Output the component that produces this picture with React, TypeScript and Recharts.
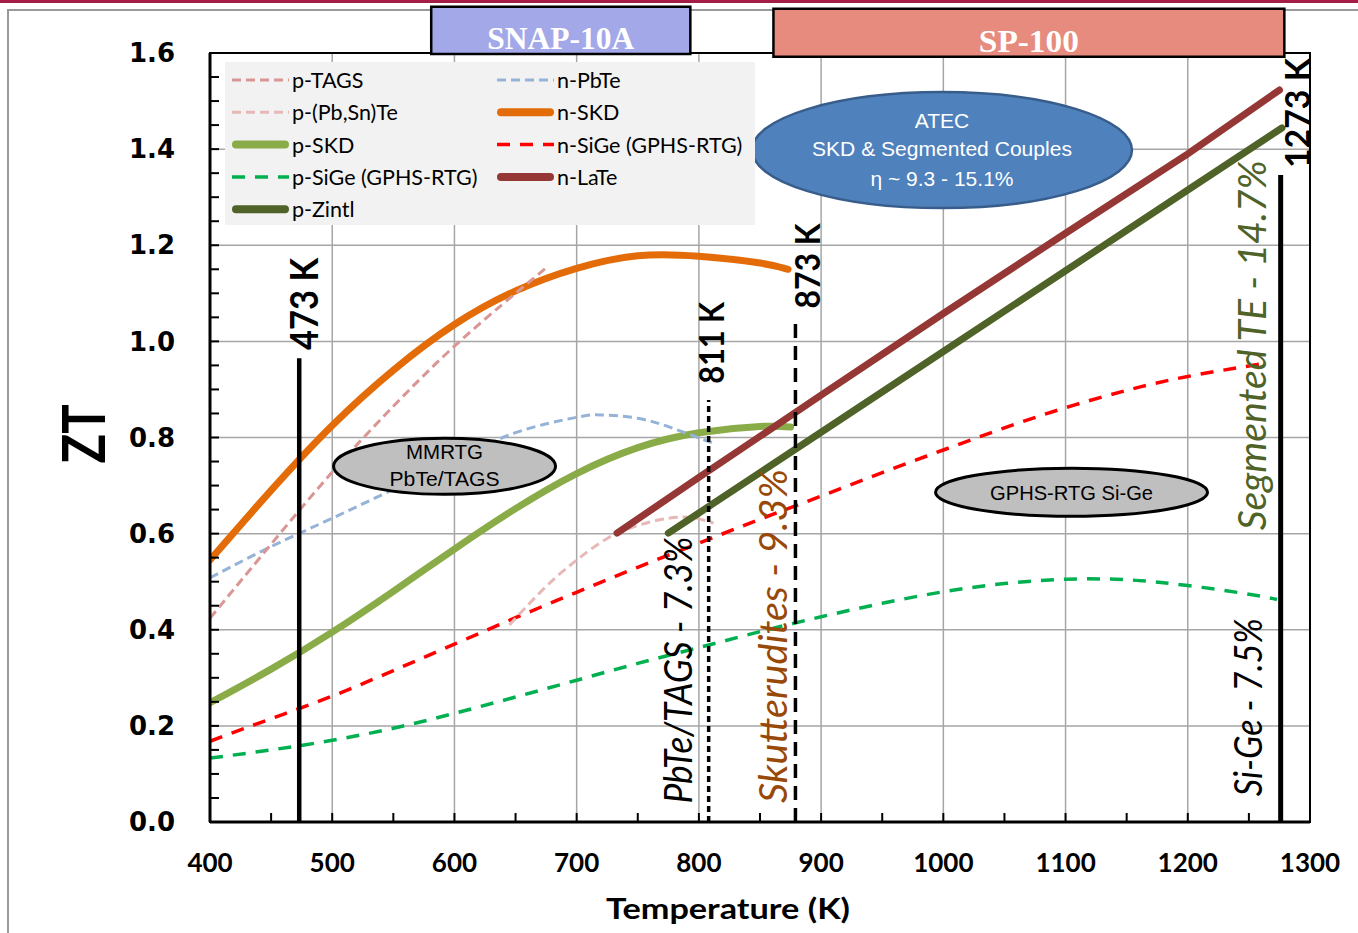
import React from "react";
import {
  ComposedChart,
  Line,
  XAxis,
  YAxis,
  CartesianGrid,
  Legend,
  ReferenceLine,
  ReferenceArea,
  ReferenceDot,
} from "recharts";

const W = 1358;
const H = 933;

// axis ticks (minor ticks every 50 K / 0.05 ZT, labels on the majors)
const xTicks = [400, 450, 500, 550, 600, 650, 700, 750, 800, 850, 900, 950, 1000, 1050, 1100, 1150, 1200, 1250, 1300];
const yTicks = [
  0, 0.05, 0.1, 0.15, 0.2, 0.25, 0.3, 0.35, 0.4, 0.45, 0.5, 0.55, 0.6, 0.65, 0.7, 0.75, 0.8,
  0.85, 0.9, 0.95, 1.0, 1.05, 1.1, 1.15, 1.2, 1.25, 1.3, 1.35, 1.4, 1.45, 1.5, 1.55, 1.6,
];
const xGrid = [500, 600, 700, 800, 900, 1000, 1100, 1200];
const yGrid = [0.2, 0.4, 0.6, 0.8, 1.0, 1.2, 1.4];

// ZT vs temperature (K)
const pTagsT = [400, 450, 500, 550, 600, 650, 676];
const pTagsZT = [0.424, 0.578, 0.728, 0.865, 0.99, 1.1, 1.155];

const pPbSnTeT = [645, 675, 700, 725, 750, 775, 795, 812];
const pPbSnTeZT = [0.41, 0.49, 0.545, 0.59, 0.617, 0.632, 0.633, 0.622];

const pSkdT = [400, 450, 500, 550, 600, 650, 700, 750, 800, 850, 875];
const pSkdZT = [0.248, 0.318, 0.395, 0.48, 0.568, 0.652, 0.725, 0.779, 0.81, 0.823, 0.822];

const pSiGeT = [400, 450, 500, 550, 600, 650, 700, 750, 800, 850, 900, 950, 1000, 1050, 1100, 1150, 1200, 1250, 1273];
const pSiGeZT = [0.133, 0.15, 0.17, 0.195, 0.226, 0.26, 0.295, 0.33, 0.363, 0.396, 0.427, 0.455, 0.479, 0.496, 0.505, 0.504, 0.492, 0.474, 0.463];

const pZintlT = [775, 800, 900, 1000, 1100, 1200, 1277];
const pZintlZT = [0.601, 0.643, 0.811, 0.979, 1.147, 1.315, 1.444];

const nPbTeT = [400, 450, 500, 550, 600, 650, 700, 720, 750, 780, 812];
const nPbTeZT = [0.508, 0.573, 0.632, 0.692, 0.752, 0.81, 0.842, 0.847, 0.84, 0.818, 0.788];

const nSkdT = [400, 450, 500, 550, 600, 650, 700, 750, 800, 850, 873];
const nSkdZT = [0.545, 0.69, 0.825, 0.94, 1.035, 1.105, 1.152, 1.178, 1.177, 1.163, 1.15];

const nSiGeT = [400, 450, 500, 550, 600, 650, 700, 750, 800, 850, 900, 950, 1000, 1050, 1100, 1150, 1200, 1265];
const nSiGeZT = [0.168, 0.215, 0.262, 0.315, 0.37, 0.425, 0.478, 0.53, 0.58, 0.63, 0.678, 0.727, 0.774, 0.82, 0.862, 0.898, 0.927, 0.955];

const nLaTeT = [733, 800, 900, 1000, 1100, 1200, 1275];
const nLaTeZT = [0.601, 0.717, 0.888, 1.058, 1.225, 1.39, 1.523];

// hot-side temperature markers
const refTemps = [473, 808, 879, 1276];
const refTops = [0.965, 0.878, 1.04, 1.346];

const pts = (t: number[], z: number[]) => t.map((x, i) => ({ t: x, zt: z[i] }));

type S = { name: string; t: number[]; zt: number[]; color: string; width: number; dash?: string; curve: "natural" | "linear" };

// drawing order
const series: S[] = [
  { name: "p-SiGe (GPHS-RTG)", t: pSiGeT, zt: pSiGeZT, color: "#00b050", width: 3.5, dash: "13 10", curve: "natural" },
  { name: "n-SiGe (GPHS-RTG)", t: nSiGeT, zt: nSiGeZT, color: "#ff0000", width: 3.5, dash: "13 10", curve: "natural" },
  { name: "p-(Pb,Sn)Te", t: pPbSnTeT, zt: pPbSnTeZT, color: "#e6b9b8", width: 3, dash: "9 5", curve: "natural" },
  { name: "p-SKD", t: pSkdT, zt: pSkdZT, color: "#8aac48", width: 7, curve: "natural" },
  { name: "n-PbTe", t: nPbTeT, zt: nPbTeZT, color: "#95b3d7", width: 3, dash: "9 5", curve: "natural" },
  { name: "n-SKD", t: nSkdT, zt: nSkdZT, color: "#e36c09", width: 7, curve: "natural" },
  { name: "p-TAGS", t: pTagsT, zt: pTagsZT, color: "#d99694", width: 3, dash: "9 5", curve: "natural" },
  { name: "n-LaTe", t: nLaTeT, zt: nLaTeZT, color: "#953735", width: 7, curve: "linear" },
  { name: "p-Zintl", t: pZintlT, zt: pZintlZT, color: "#4f6228", width: 7, curve: "linear" },
];

const legendCols = [
  ["p-TAGS", "p-(Pb,Sn)Te", "p-SKD", "p-SiGe (GPHS-RTG)", "p-Zintl"],
  ["n-PbTe", "n-SKD", "n-SiGe (GPHS-RTG)", "n-LaTe"],
];

const refStyles = [
  { w: 4.5, dash: undefined },
  { w: 3.5, dash: "6 4" },
  { w: 3.5, dash: "14 8" },
  { w: 5, dash: undefined },
];

// rotated annotations (anchor in data units)
const vLabels = [
  { text: "473 K", t: 475.7, zt: 1.078, size: 38, len: 92, color: "#000", italic: false },
  { text: "811 K", t: 809.1, zt: 0.997, size: 35, len: 82, color: "#000", italic: false },
  { text: "873 K", t: 887.6, zt: 1.157, size: 35, len: 85, color: "#000", italic: false },
  { text: "1273 K", t: 1288.5, zt: 1.475, size: 35, len: 110, color: "#000", italic: false },
  { text: "PbTe/TAGS - 7.3%", t: 782.5, zt: 0.316, size: 38, len: 267, color: "#000", italic: true },
  { text: "Skutterudites - 9.3%", t: 859.5, zt: 0.387, size: 38, len: 334, color: "#984807", italic: true },
  { text: "Segmented TE - 14.7%", t: 1251.7, zt: 0.992, size: 38, len: 370, color: "#4f6228", italic: true },
  { text: "Si-Ge - 7.5%", t: 1248.5, zt: 0.239, size: 38, len: 178, color: "#000", italic: true },
];

const bubbles = [
  { lines: ["MMRTG", "PbTe/TAGS"], t: 591.9, zt: 0.74, rx: 111, ry: 28, fill: "#bfbfbf", stroke: "#000", sw: 3, color: "#000", size: 20.5, dy: [-15, 12], lens: [0, 110] },
  { lines: ["GPHS-RTG Si-Ge"], t: 1104.9, zt: 0.686, rx: 136, ry: 24, fill: "#bfbfbf", stroke: "#000", sw: 3, color: "#000", size: 20, dy: [1], lens: [163] },
  { lines: ["ATEC", "SKD & Segmented Couples", "η ~ 9.3 - 15.1%"], t: 998.9, zt: 1.398, rx: 190, ry: 58, fill: "#4f81bd", stroke: "#385d8a", sw: 2.5, color: "#fff", size: 21, dy: [-30, -2, 28], lens: [0, 260, 0] },
];

const LegendBox = () => (
  <svg width={530} height={163} style={{ display: "block" }}>
    <rect x={0} y={0} width={530} height={163} fill="#f2f2f2" />
    {legendCols.map((col, ci) =>
      col.map((name, ri) => {
        const s = series.find((d) => d.name === name)!;
        const x0 = ci === 0 ? 7 : 272;
        const y = 18 + ri * 32.3;
        return (
          <g key={name}>
            {s.dash ? (
              <line x1={x0} x2={x0 + 57} y1={y} y2={y} stroke={s.color} strokeWidth={s.width} strokeDasharray={s.dash} />
            ) : (
              <line x1={x0 + 4} x2={x0 + 53} y1={y} y2={y} stroke={s.color} strokeWidth={8} strokeLinecap="round" />
            )}
            <text x={x0 + 60} y={y} dominantBaseline="central" fontFamily="Lato" fontSize={21.5} fill="#000">
              {name}
            </text>
          </g>
        );
      })
    )}
  </svg>
);

const boxLabel = (text: string, len: number) => (props: any) => {
  const vb = props.viewBox;
  return (
    <text
      x={vb.x + vb.width / 2}
      y={vb.y + vb.height / 2 + 8}
      textAnchor="middle"
      dominantBaseline="central"
      fontFamily="Liberation Serif"
      fontWeight={700}
      fontSize={32}
      fill="#fff"
      textLength={len}
      lengthAdjust="spacingAndGlyphs"
    >
      {text}
    </text>
  );
};

export default function App() {
  return (
    <div style={{ position: "fixed", left: 0, top: 0, width: W, height: H, background: "#fff", overflow: "hidden" }}>
      <div style={{ position: "absolute", left: 0, top: 0, width: W, height: 3, background: "#a51d47" }} />
      <div style={{ position: "absolute", left: 7, top: 9, width: W, height: H, borderLeft: "2px solid #9a9a9a", borderTop: "2px solid #9a9a9a" }} />
      <div style={{ position: "absolute", left: 0, top: 0 }}>
        <ComposedChart width={W} height={H} margin={{ top: 53, right: 48, bottom: 0, left: 0 }}>
          <CartesianGrid stroke="#a6a6a6" strokeWidth={1.5} horizontalValues={yGrid} verticalValues={xGrid} />
          <XAxis
            type="number"
            dataKey="t"
            domain={[400, 1300]}
            ticks={xTicks}
            interval={0}
            allowDataOverflow
            height={111}
            tickSize={-9}
            tickMargin={41}
            tickFormatter={(v: number) => (v % 100 === 0 ? String(v) : "")}
            axisLine={{ stroke: "#000", strokeWidth: 3 }}
            tickLine={{ stroke: "#000", strokeWidth: 2 }}
            tick={{ fill: "#000", fontFamily: "Lato", fontWeight: 700, fontSize: 26 }}
            label={() => (
              <text x={728} y={907} textAnchor="middle" dominantBaseline="central" fontFamily="Lato" fontWeight={700} fontSize={29} fill="#000" textLength={244} lengthAdjust="spacingAndGlyphs">
                Temperature (K)
              </text>
            )}
          />
          <YAxis
            type="number"
            domain={[0, 1.6]}
            ticks={yTicks}
            interval={0}
            width={210}
            tickSize={-9}
            tickMargin={44}
            tickFormatter={(v: number) => (Math.round(v * 100) % 20 === 0 ? v.toFixed(1) : "")}
            axisLine={{ stroke: "#000", strokeWidth: 3 }}
            tickLine={{ stroke: "#000", strokeWidth: 2 }}
            tick={{ fill: "#000", fontFamily: "DejaVu Sans", fontWeight: 700, fontSize: 26 }}
            label={() => (
              <text x={82} y={434} transform="rotate(-90 82 434)" textAnchor="middle" dominantBaseline="central" fontFamily="Lato" fontWeight={700} fontSize={60} fill="#000" textLength={59} lengthAdjust="spacingAndGlyphs">
                ZT
              </text>
            )}
          />
          <Legend
            layout="vertical"
            align="center"
            verticalAlign="middle"
            content={() => <LegendBox />}
            wrapperStyle={{ left: 225, top: 62, width: 530, height: 163 }}
          />

          <ReferenceArea x1={400} x2={1300} y1={0} y2={1.6} fill="none" stroke="#000" strokeWidth={2} fillOpacity={0} />
          <ReferenceArea x1={581} x2={793} y1={1.598} y2={1.696} ifOverflow="visible" fill="#a3a8e8" fillOpacity={1} stroke="#000" strokeWidth={2.5} label={boxLabel("SNAP-10A", 147)} />
          <ReferenceArea x1={861} x2={1279} y1={1.592} y2={1.692} ifOverflow="visible" fill="#e68b7d" fillOpacity={1} stroke="#000" strokeWidth={2.5} label={boxLabel("SP-100", 100)} />

          {series.map((s) => (
            <Line
              key={s.name}
              name={s.name}
              data={pts(s.t, s.zt)}
              dataKey="zt"
              type={s.curve}
              stroke={s.color}
              strokeWidth={s.width}
              strokeDasharray={s.dash}
              strokeLinecap={s.dash ? "butt" : "round"}
              dot={false}
              activeDot={false}
              isAnimationActive={false}
            />
          ))}

          {refTemps.map((t, i) => (
            <ReferenceLine
              key={t}
              segment={[{ x: t, y: 0 }, { x: t, y: refTops[i] }]}
              stroke="#000"
              strokeWidth={refStyles[i].w}
              strokeDasharray={refStyles[i].dash}
            />
          ))}

          {bubbles.map((b) => (
            <ReferenceDot
              key={b.lines[0]}
              x={b.t}
              y={b.zt}
              r={1}
              ifOverflow="visible"
              shape={(p: any) => (
                <g>
                  <ellipse cx={p.cx} cy={p.cy} rx={b.rx} ry={b.ry} fill={b.fill} stroke={b.stroke} strokeWidth={b.sw} />
                  {b.lines.map((ln, i) => (
                    <text
                      key={ln}
                      x={p.cx}
                      y={p.cy + b.dy[i]}
                      textAnchor="middle"
                      dominantBaseline="central"
                      fontFamily="Liberation Sans"
                      fontSize={b.size}
                      fill={b.color}
                      {...(b.lens[i] ? { textLength: b.lens[i], lengthAdjust: "spacingAndGlyphs" } : {})}
                    >
                      {ln}
                    </text>
                  ))}
                </g>
              )}
            />
          ))}

          {vLabels.map((l) => (
            <ReferenceDot
              key={l.text}
              x={l.t}
              y={l.zt}
              r={1}
              ifOverflow="visible"
              shape={(p: any) => (
                <text
                  x={p.cx}
                  y={p.cy}
                  transform={`rotate(-90 ${p.cx} ${p.cy})`}
                  textAnchor="middle"
                  dominantBaseline="central"
                  fontFamily="Lato"
                  fontSize={l.size}
                  fontWeight={l.italic ? 400 : 700}
                  fontStyle={l.italic ? "italic" : "normal"}
                  fill={l.color}
                  textLength={l.len}
                  lengthAdjust="spacingAndGlyphs"
                >
                  {l.text}
                </text>
              )}
            />
          ))}
        </ComposedChart>
      </div>
    </div>
  );
}
